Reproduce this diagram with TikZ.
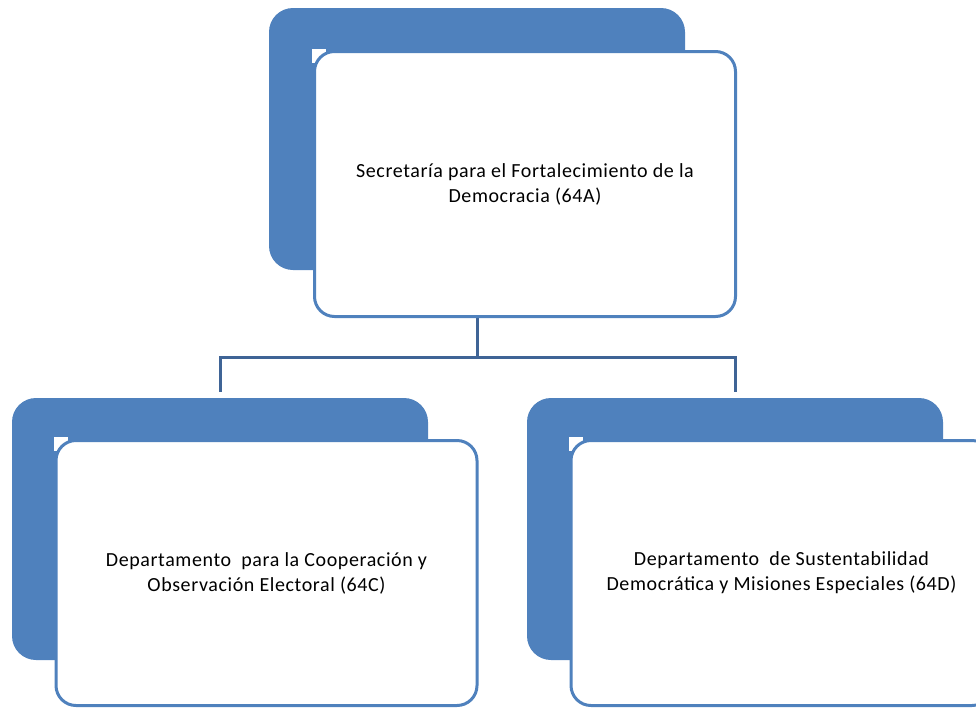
\documentclass[tikz,border=0pt]{standalone}
\usepackage{fontspec}
\setmainfont{Carlito}[LetterSpace=3]
\definecolor{boxblue}{RGB}{79,129,189}
\definecolor{lineblue}{RGB}{63,100,150}
\tikzset{backbox/.style={fill=boxblue,rounded corners=24pt,minimum width=416pt,minimum height=262pt,inner sep=0pt}}
\tikzset{frontbox/.style={draw=boxblue,line width=3pt,fill=white,rounded corners=20pt,minimum width=421pt,minimum height=265pt,align=center,font=\fontsize{20}{25}\selectfont}}
\tikzset{orgline/.style={draw=lineblue,line width=3pt}}

\begin{document}
\begin{tikzpicture}[x=1pt,y=-1pt]
 		\useasboundingbox (0,0) rectangle (976,710);

 		\node[backbox] (secb) at (477,139) {};
 		\node[backbox] (coopb) at (220,529) {};
 		\node[backbox] (sustb) at (735,529) {};

 		\coordinate (split) at (477,357);
 		\draw[orgline] (secb.south) -- (split);
 		\draw[orgline,shorten >=6pt] (split) -| (coopb.north);
 		\draw[orgline,shorten >=6pt] (split) -| (sustb.north);

 		\fill[white] (312,49) rectangle (326,63);
 		\fill[white] (54,437) rectangle (68,451);
 		\fill[white] (569,437) rectangle (583,451);

 		\node[frontbox] (sec) at (525,184) {Secretaría para el Fortalecimiento de la\\Democracia (64A)};
 		\node[frontbox] (coop) at (266.5,573) {Departamento\ \ para la Cooperación y\\Observación Electoral (64C)};
 		\node[frontbox] (sust) at (781.5,573) {Departamento\ \ de Sustentabilidad\\Democrática y Misiones Especiales (64D)};
 	 \end{tikzpicture}
\end{document}
